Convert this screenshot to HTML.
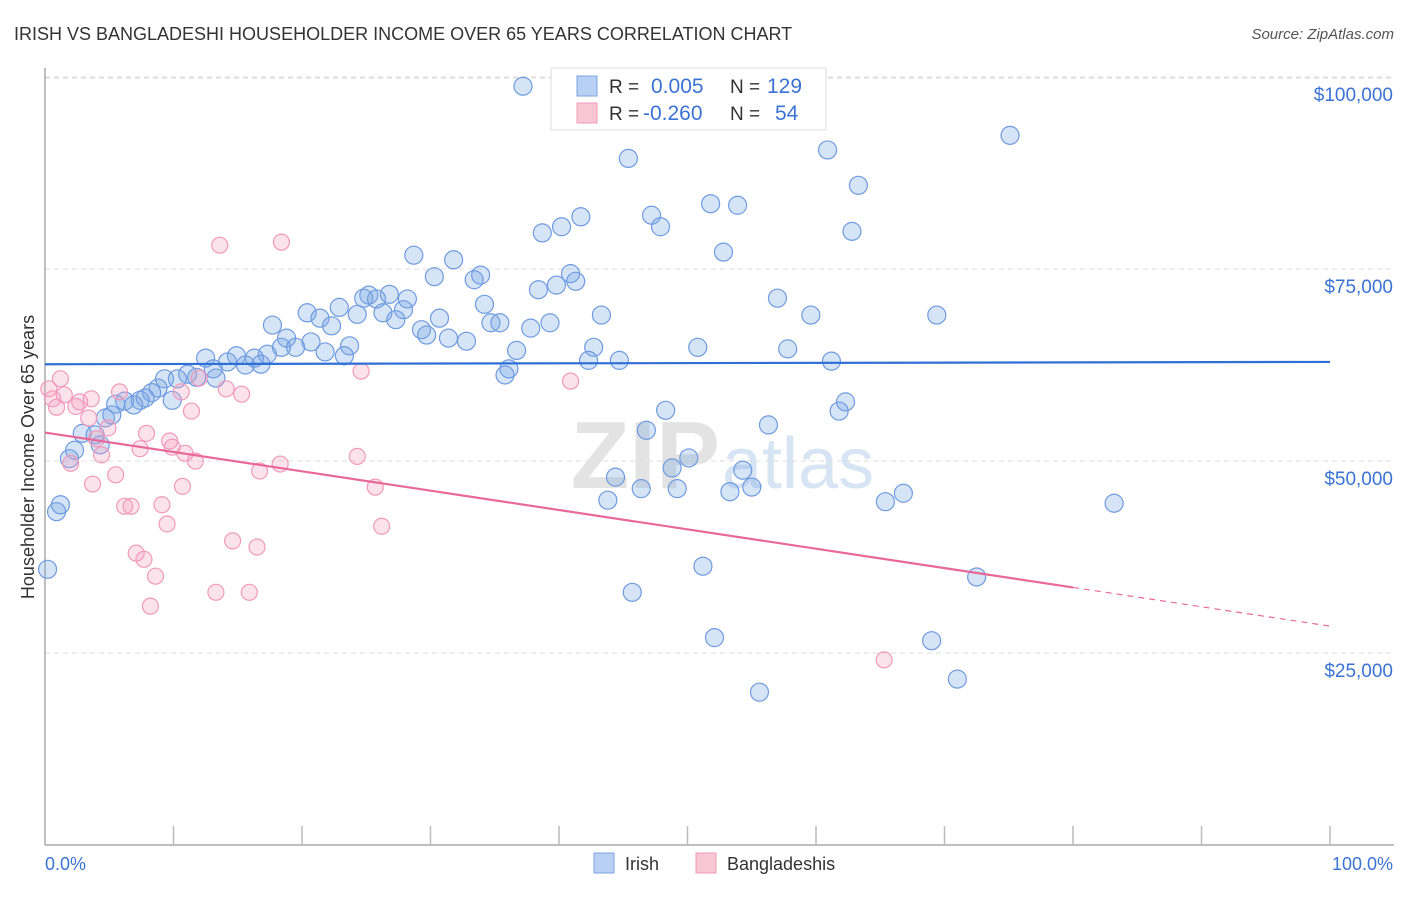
<!DOCTYPE html>
<html><head><meta charset="utf-8"><style>
body{margin:0;background:#fff;font-family:"Liberation Sans",sans-serif;}
svg text{font-family:"Liberation Sans",sans-serif;}
</style></head><body>
<svg id="chart" width="1406" height="892" viewBox="0 0 1406 892" xmlns="http://www.w3.org/2000/svg">
<text x="14" y="40" font-size="18" fill="#333">IRISH VS BANGLADESHI HOUSEHOLDER INCOME OVER 65 YEARS CORRELATION CHART</text>
<text x="1394" y="39" font-size="15" fill="#555" font-style="italic" text-anchor="end">Source: ZipAtlas.com</text>
<text x="720" y="488" font-size="96" font-weight="bold" fill="#e3e3e3" text-anchor="end">ZIP</text>
<text x="722" y="488" font-size="72" fill="#d6e4f3">atlas</text>
<g id="grid"></g>
<g id="axes"></g>
<g id="pts"></g>
<g id="trend"></g>
<text transform="translate(34,457) rotate(-90)" font-size="18" fill="#333" text-anchor="middle">Householder Income Over 65 years</text>
<g>
<rect x="551" y="68" width="275" height="62" fill="#fff" stroke="#ddd"/>
<rect x="577" y="76" width="20" height="20" fill="#b8d0f3" stroke="#7ba3e0"/>
<rect x="577" y="103" width="20" height="20" fill="#f9c6d6" stroke="#ef9ab7"/>
<text x="609" y="93" font-size="19" fill="#333">R = </text><text x="651" y="93" font-size="21" fill="#3b73d4">0.005</text>
<text x="730" y="93" font-size="19" fill="#333">N = </text><text x="767" y="93" font-size="21" fill="#3b73d4">129</text>
<text x="609" y="120" font-size="19" fill="#333">R = </text><text x="643" y="120" font-size="21" fill="#3b73d4">-0.260</text>
<text x="730" y="120" font-size="19" fill="#333">N = </text><text x="775" y="120" font-size="21" fill="#3b73d4">54</text>
</g>
<g>
<rect x="594" y="853" width="20" height="20" fill="#b8d0f3" stroke="#7ba3e0"/>
<text x="625" y="870" font-size="18" fill="#333">Irish</text>
<rect x="696" y="853" width="20" height="20" fill="#f9c6d6" stroke="#ef9ab7"/>
<text x="727" y="870" font-size="18" fill="#333">Bangladeshis</text>
</g>
</svg>
<script>
const yTicks=[25000,50000,75000,100000];
const yTickLabels=["$25,000","$50,000","$75,000","$100,000"];
const xTickLabels=["0.0%","100.0%"];
const irishX=[37.2,75.1,45.4,60.9,63.3,51.8,53.9,47.2,41.7,47.9,38.7,40.2,62.8,52.8,28.7,31.8,33.9,30.3,33.4,40.9,41.3,39.8,38.4,25.2,26.8,24.8,28.2,25.8,57.0,34.2,22.9,20.4,24.3,26.3,27.9,43.3,59.6,69.4,21.4,30.7,27.3,17.7,22.3,34.7,35.4,39.3,37.8,29.3,29.7,31.4,32.8,18.8,20.7,19.5,18.4,23.7,21.8,23.3,36.7,42.7,50.8,57.8,17.3,16.3,14.9,12.5,14.2,15.6,16.8,13.1,42.3,44.7,61.2,36.1,35.8,11.1,11.8,9.3,10.3,13.3,8.8,8.3,7.4,9.9,6.2,5.5,6.9,7.8,62.3,61.8,48.3,5.2,4.7,56.3,46.8,2.9,3.9,4.3,2.3,1.9,50.1,54.3,48.8,44.4,46.4,49.2,55.0,53.3,66.8,43.8,65.4,83.2,1.2,0.9,0.2,51.2,72.5,45.7,52.1,69.0,71.0,55.6];
const irishY=[98.8,92.4,89.4,90.5,85.9,83.5,83.3,82.0,81.8,80.5,79.7,80.5,79.9,77.2,76.8,76.2,74.2,74.0,73.6,74.4,73.4,72.9,72.3,71.6,71.7,71.2,71.1,71.1,71.2,70.4,70.0,69.3,69.1,69.3,69.7,69.0,69.0,69.0,68.6,68.6,68.4,67.7,67.6,68.0,68.0,68.0,67.3,67.1,66.4,66.0,65.6,66.0,65.5,64.8,64.8,65.0,64.2,63.7,64.4,64.8,64.8,64.6,63.9,63.4,63.7,63.4,62.9,62.5,62.6,62.0,63.1,63.1,63.0,62.0,61.2,61.3,60.9,60.7,60.7,60.8,59.5,58.9,57.9,57.9,57.8,57.4,57.3,58.2,57.7,56.5,56.6,56.0,55.6,54.7,54.0,53.6,53.4,52.1,51.4,50.3,50.4,48.8,49.1,47.9,46.4,46.4,46.6,46.0,45.8,44.9,44.7,44.5,44.3,43.4,35.9,36.3,34.9,32.9,27.0,26.6,21.6,19.9];
const bangX=[13.6,18.4,24.6,40.9,1.2,0.3,1.5,0.6,0.9,2.4,2.7,3.6,5.8,10.6,14.1,15.3,12.0,3.4,4.9,11.4,7.9,4.0,9.7,9.9,10.9,7.4,4.4,11.7,2.0,18.3,24.3,16.7,5.5,3.7,10.7,25.7,6.2,6.7,9.1,9.5,26.2,14.6,16.5,7.1,7.7,8.6,13.3,15.9,8.2,65.3];
const bangY=[78.1,78.5,61.7,60.4,60.7,59.4,58.6,58.1,57.0,57.1,57.7,58.1,59.0,59.0,59.4,58.7,60.8,55.6,54.3,56.5,53.6,52.9,52.6,51.8,51.0,51.6,50.8,50.0,49.7,49.6,50.6,48.7,48.2,47.0,46.7,46.6,44.1,44.1,44.3,41.8,41.5,39.6,38.8,38.0,37.2,35.0,32.9,32.9,31.1,24.1];
const irishTrend=[62.6,62.9];
const bangTrend=[53.7,28.5];
const bangSolidEnd=80;
const NS="http://www.w3.org/2000/svg";
const X0=45,X1=1330,YB=845;
function sx(p){return X0+(X1-X0)*p/100;}
function sy(k){return YB-(k*1000)/25000*192;}
function mk(tag,attrs,parent){const e=document.createElementNS(NS,tag);for(const k in attrs)e.setAttribute(k,attrs[k]);parent.appendChild(e);return e;}
const grid=document.getElementById('grid'),axes=document.getElementById('axes'),pts=document.getElementById('pts'),trend=document.getElementById('trend');
mk('line',{x1:X0,x2:1394,y1:78,y2:78,stroke:'#ddd','stroke-dasharray':'5,4'},grid);
yTicks.forEach((v,i)=>{const y=sy(v/1000);
 const l=mk('line',{x1:X0,x2:1394,y1:y,y2:y,stroke:'#ddd','stroke-dasharray':'5,4'},grid);
 
 
 const t=mk('text',{x:1393,y:y+24,'font-size':19,fill:'#3b73d4','text-anchor':'end'},axes);t.textContent=yTickLabels[i];
 
 
});
mk('line',{x1:X0,x2:X0,y1:68,y2:YB,stroke:'#aaa','stroke-width':1.5},axes);
mk('line',{x1:X0,x2:1394,y1:YB,y2:YB,stroke:'#aaa','stroke-width':1.5},axes);
for(let i=1;i<=10;i++){const x=sx(i*10);mk('line',{x1:x,x2:x,y1:826,y2:YB,stroke:'#bbb','stroke-width':1.5},axes);}
const t0=mk('text',{x:45,y:870,'font-size':18,fill:'#3b73d4'},axes);t0.textContent=xTickLabels[0];


const t1=mk('text',{x:1393,y:870,'font-size':18,fill:'#3b73d4','text-anchor':'end'},axes);t1.textContent=xTickLabels[1];


irishX.forEach((x,i)=>{const c=mk('circle',{cx:sx(x),cy:sy(irishY[i]),r:9,fill:'rgba(120,165,230,0.3)',stroke:'#6f9be0','stroke-width':1.2},pts);
 
 });
bangX.forEach((x,i)=>{const c=mk('circle',{cx:sx(x),cy:sy(bangY[i]),r:8,fill:'rgba(245,160,190,0.3)',stroke:'#f19aba','stroke-width':1.2},pts);
 
 });
const l1=mk('line',{x1:sx(0),y1:sy(irishTrend[0]),x2:sx(100),y2:sy(irishTrend[1]),stroke:'#2f6fd6','stroke-width':2.2},trend);


const ym=bangTrend[0]+(bangTrend[1]-bangTrend[0])*bangSolidEnd/100;
const l2=mk('line',{x1:sx(0),y1:sy(bangTrend[0]),x2:sx(bangSolidEnd),y2:sy(ym),stroke:'#e8689a','stroke-width':2.2},trend);


const l3=mk('line',{x1:sx(bangSolidEnd),y1:sy(ym),x2:sx(100),y2:sy(bangTrend[1]),stroke:'#e8689a','stroke-width':1.2,'stroke-dasharray':'6,5'},trend);


</script>
</body></html>
